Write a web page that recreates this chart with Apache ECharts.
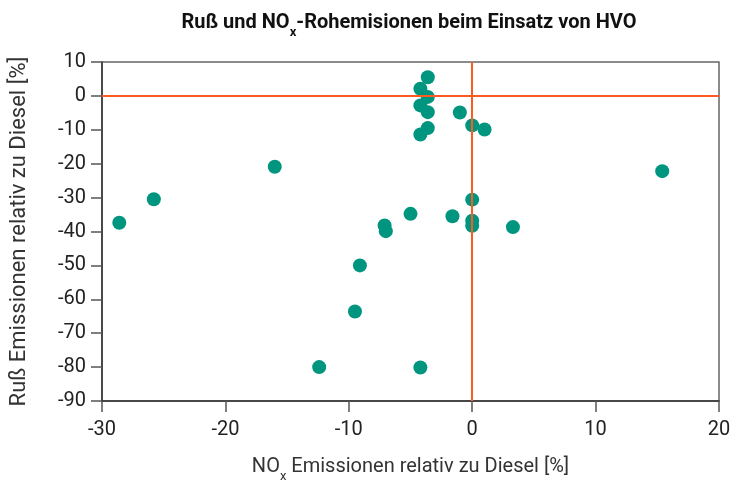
<!DOCTYPE html>
<html>
<head>
<meta charset="utf-8">
<script src="https://cdn.jsdelivr.net/npm/echarts@6/dist/echarts.min.js"></script>
<style>
  html, body { margin: 0; padding: 0; background: #fff; }
  #chart { width: 734px; height: 480px; }
</style>
</head>
<body>
<div id="chart"></div>
<script>
// NOx-Änderung [%] (x) und Ruß-Änderung [%] (y) je Messpunkt
var noxValues = [-3.6, -4.2, -3.6, -4.2, -3.6, -1.0, 0.0, 1.0, -3.6, -4.2,
                 -28.6, -25.8, -16.0, 15.4, 0.0, -5.0, -1.6, 0.0, 0.0, -7.1,
                 -7.0, 3.3, -9.1, -9.5, -12.4, -4.2];
var russValues = [5.5, 2.1, -0.3, -2.8, -4.8, -4.9, -8.7, -9.9, -9.5, -11.4,
                  -37.4, -30.5, -20.9, -22.2, -30.6, -34.8, -35.5, -36.8, -38.3, -38.2,
                  -39.9, -38.7, -50.0, -63.6, -80.0, -80.1];
var xTicks = [-30, 20, 10];   // min, max, interval
var yTicks = [-90, 10, 10];

var points = [];
for (var i = 0; i < noxValues.length; i++) {
    points.push([noxValues[i], russValues[i]]);
}

var myChart = echarts.init(document.getElementById('chart'));
var labelFont = 'Roboto';
var option = {
    backgroundColor: '#fff',
    animation: false,
    title: {
        text: '{b|Ruß und NO}{s|x}{b|-Rohemisionen beim Einsatz von HVO}',
        left: 404,
        top: 2,
        textAlign: 'center',
        textStyle: {
            rich: {
                b: { fontFamily: labelFont, fontWeight: 'bold', fontSize: 20, color: '#111', verticalAlign: 'bottom', lineHeight: 26 },
                s: { fontFamily: labelFont, fontWeight: 'bold', fontSize: 13, color: '#111', verticalAlign: 'bottom', lineHeight: 26, padding: [0, 0, -6, 0] }
            }
        }
    },
    grid: {
        left: 102,
        right: 15,
        top: 62,
        bottom: 79,
        outerBoundsMode: 'none',
        containLabel: false,
        show: true,
        borderColor: '#666',
        borderWidth: 1.5
    },
    xAxis: {
        type: 'value',
        min: xTicks[0],
        max: xTicks[1],
        interval: xTicks[2],
        name: '{n|NO}{s|x}{n| Emissionen relativ zu Diesel [%]}',
        nameLocation: 'middle',
        nameGap: 50,
        nameTextStyle: {
            rich: {
                n: { fontFamily: labelFont, fontSize: 20, color: '#333', verticalAlign: 'bottom', lineHeight: 26 },
                s: { fontFamily: labelFont, fontSize: 13, color: '#333', verticalAlign: 'bottom', lineHeight: 26, padding: [0, 0, -6, 0] }
            }
        },
        axisLine: { onZero: false, lineStyle: { color: '#333', width: 1.5 } },
        axisTick: { length: 11, lineStyle: { color: '#555', width: 1.5 } },
        axisLabel: { fontFamily: labelFont, fontSize: 20, color: '#222', margin: 19 },
        splitLine: { show: false }
    },
    yAxis: {
        type: 'value',
        min: yTicks[0],
        max: yTicks[1],
        interval: yTicks[2],
        name: 'Ruß Emissionen relativ zu Diesel [%]',
        nameLocation: 'middle',
        nameGap: 72,
        nameTextStyle: { fontFamily: labelFont, fontSize: 22, color: '#333' },
        axisLine: { onZero: false, lineStyle: { color: '#333', width: 1.5 } },
        axisTick: { length: 11, lineStyle: { color: '#555', width: 1.5 } },
        axisLabel: { fontFamily: labelFont, fontSize: 20, color: '#222', margin: 16 },
        splitLine: { show: false }
    },
    series: [
        {
            type: 'scatter',
            symbol: 'circle',
            symbolSize: 14,
            itemStyle: { color: '#00957f', opacity: 1 },
            data: points,
            markLine: {
                silent: true,
                symbol: ['none', 'none'],
                label: { show: false },
                lineStyle: { color: '#ff5a1f', width: 2, type: 'solid' },
                data: [{ xAxis: 0 }, { yAxis: 0 }]
            },
            z: 3
        }
    ]
};
myChart.setOption(option);
</script>
</body>
</html>
